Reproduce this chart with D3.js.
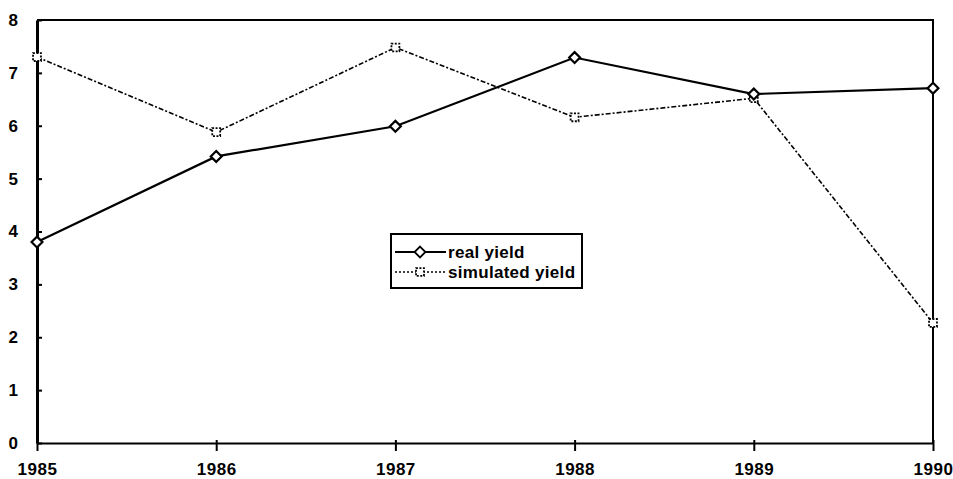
<!DOCTYPE html>
<html>
<head>
<meta charset="utf-8">
<script src="https://cdn.jsdelivr.net/npm/d3@7"></script>
<style>
  body { margin: 0; background: #fff; }
  svg text { font-family: "Liberation Sans", Arial, sans-serif; font-weight: bold; fill: #000; }
</style>
</head>
<body>
<svg id="chart"></svg>
<script>
// chart data
const years = [1985, 1986, 1987, 1988, 1989, 1990];
const realYield = [3.8, 5.42, 5.99, 7.29, 6.6, 6.71];
const simulatedYield = [7.3, 5.88, 7.48, 6.16, 6.52, 2.27];
const yTicks = [0, 1, 2, 3, 4, 5, 6, 7, 8];

const width = 953, height = 479;
const margin = { left: 37, right: 20, top: 20, bottom: 36 };

const svg = d3.select("#chart")
    .attr("width", width)
    .attr("height", height);

const x = d3.scalePoint()
    .domain(years)
    .range([margin.left, width - margin.right]);

const y = d3.scaleLinear()
    .domain([0, 8])
    .range([height - margin.bottom, margin.top]);

// frame: top and right edges
svg.append("path")
    .attr("d", `M${margin.left},${y(8)}H${width - margin.right}V${y(0)}`)
    .attr("fill", "none")
    .attr("stroke", "#000")
    .attr("stroke-width", 2);

// y axis, ticks crossing the line
const yAxis = svg.append("g")
    .attr("transform", `translate(${margin.left},0)`)
    .call(d3.axisLeft(y).tickValues(yTicks).tickSize(5).tickPadding(14).tickSizeOuter(0));
yAxis.select(".domain").attr("stroke-width", 3);
yAxis.selectAll(".tick line").attr("x2", 5).attr("stroke-width", 2);
yAxis.selectAll("text").style("font-size", "17px");

// x axis
const xAxis = svg.append("g")
    .attr("transform", `translate(0,${y(0)})`)
    .call(d3.axisBottom(x).tickSize(8).tickPadding(12).tickSizeOuter(0));
xAxis.select(".domain").attr("stroke-width", 2);
xAxis.selectAll(".tick line").attr("y1", -3).attr("stroke-width", 2);
xAxis.selectAll("text").style("font-size", "17px").attr("letter-spacing", 0.5);

const line = d3.line()
    .x((d, i) => x(years[i]))
    .y(d => y(d));

// simulated yield: thin dash-dot line
svg.append("path")
    .datum(simulatedYield)
    .attr("d", line)
    .attr("fill", "none")
    .attr("stroke", "#000")
    .attr("stroke-width", 1.6)
    .attr("stroke-dasharray", "5,2,2,2");

// real yield: solid line
svg.append("path")
    .datum(realYield)
    .attr("d", line)
    .attr("fill", "none")
    .attr("stroke", "#000")
    .attr("stroke-width", 2.2);

const diamond = d3.symbol().type(d3.symbolDiamond2).size(75);
const square = d3.symbol().type(d3.symbolSquare2).size(80);

svg.selectAll(".sim-mark")
    .data(simulatedYield)
    .join("path")
    .attr("class", "sim-mark")
    .attr("transform", (d, i) => `translate(${x(years[i])},${y(d)})`)
    .attr("d", square)
    .attr("fill", "#fff")
    .attr("stroke", "#000")
    .attr("stroke-width", 1.8)
    .attr("stroke-dasharray", "2,1.5");

svg.selectAll(".real-mark")
    .data(realYield)
    .join("path")
    .attr("class", "real-mark")
    .attr("transform", (d, i) => `translate(${x(years[i])},${y(d)})`)
    .attr("d", diamond)
    .attr("fill", "#fff")
    .attr("stroke", "#000")
    .attr("stroke-width", 2.2);

// legend
const legend = svg.append("g").attr("transform", "translate(391,234)");
legend.append("rect")
    .attr("width", 191)
    .attr("height", 54)
    .attr("fill", "#fff")
    .attr("stroke", "#000")
    .attr("stroke-width", 2);

const legendItems = [
    { name: "real yield", dash: null, sw: 2.2, sym: diamond, symDash: null },
    { name: "simulated yield", dash: "2,2", sw: 1.6, sym: square, symDash: "2,1.5" }
];
legendItems.forEach((it, i) => {
    const cy = 18 + i * 20;
    legend.append("line")
        .attr("x1", 4).attr("x2", 55)
        .attr("y1", cy).attr("y2", cy)
        .attr("stroke", "#000")
        .attr("stroke-width", it.sw)
        .attr("stroke-dasharray", it.dash);
    legend.append("path")
        .attr("transform", `translate(29,${cy})`)
        .attr("d", it.sym)
        .attr("fill", "#fff")
        .attr("stroke", "#000")
        .attr("stroke-width", 1.8)
        .attr("stroke-dasharray", it.symDash);
    legend.append("text")
        .attr("x", 57)
        .attr("y", cy + 6)
        .style("font-size", "17px")
        .attr("letter-spacing", 0.3)
        .text(it.name);
});
</script>
</body>
</html>
